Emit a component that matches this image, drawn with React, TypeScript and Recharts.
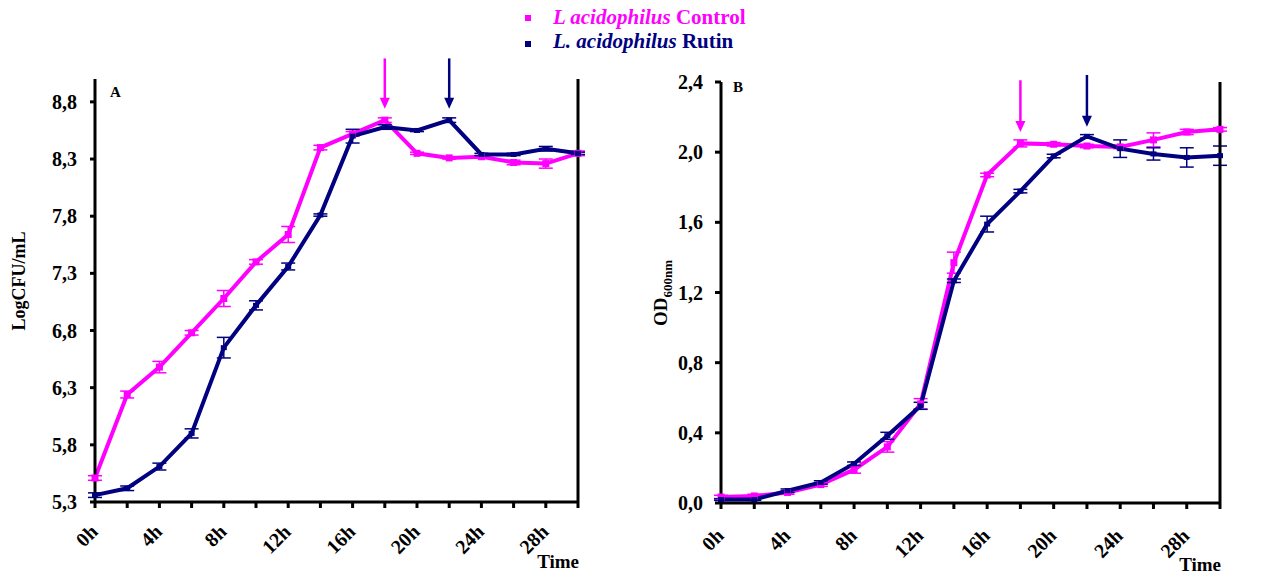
import { LineChart, Line, XAxis, YAxis, ErrorBar, ReferenceLine } from "recharts"

const hours = [0, 2, 4, 6, 8, 10, 12, 14, 16, 18, 20, 22, 24, 26, 28, 30]
const hourTicks = [0, 2, 4, 6, 8, 10, 12, 14, 16, 18, 20, 22, 24, 26, 28, 30]

// panel A - LogCFU/mL
const controlCfu = [5.51, 6.24, 6.48, 6.78, 7.08, 7.4, 7.64, 8.4, 8.52, 8.64, 8.35, 8.31, 8.32, 8.27, 8.26, 8.35]
const controlCfuErr = [0.02, 0.03, 0.05, 0.02, 0.07, 0.02, 0.07, 0.02, 0.02, 0.02, 0.01, 0.01, 0.01, 0.02, 0.04, 0.02]
const rutinCfu = [5.36, 5.42, 5.61, 5.9, 6.65, 7.02, 7.36, 7.81, 8.5, 8.58, 8.55, 8.64, 8.34, 8.34, 8.39, 8.35]
const rutinCfuErr = [0.02, 0.02, 0.03, 0.04, 0.09, 0.04, 0.03, 0.01, 0.06, 0.02, 0.01, 0.02, 0.01, 0.01, 0.02, 0.01]
const cfuTicks = [5.3, 5.8, 6.3, 6.8, 7.3, 7.8, 8.3, 8.8]

// panel B - OD600nm
const controlOd = [0.034, 0.04, 0.06, 0.105, 0.19, 0.32, 0.565, 1.37, 1.87, 2.05, 2.045, 2.035, 2.03, 2.07, 2.115, 2.13]
const controlOdErr = [0.01, 0.01, 0.01, 0.01, 0.02, 0.03, 0.03, 0.06, 0.01, 0.02, 0.01, 0.01, 0.01, 0.04, 0.015, 0.01]
const rutinOd = [0.02, 0.02, 0.07, 0.117, 0.224, 0.383, 0.554, 1.267, 1.59, 1.778, 1.978, 2.09, 2.02, 1.99, 1.97, 1.98]
const rutinOdErr = [0.005, 0.005, 0.01, 0.01, 0.01, 0.02, 0.02, 0.01, 0.045, 0.01, 0.01, 0.01, 0.05, 0.035, 0.055, 0.055]
const odTicks = [0, 0.4, 0.8, 1.2, 1.6, 2.0, 2.4]

const PINK = "#ff00ff"
const NAVY = "#000080"
const FONT = "'Liberation Serif', 'Times New Roman', serif"

const cfuData = hours.map((h, i) => ({
  h,
  control: controlCfu[i],
  controlErr: controlCfuErr[i],
  rutin: rutinCfu[i],
  rutinErr: rutinCfuErr[i],
}))

const odData = hours.map((h, i) => ({
  h,
  control: controlOd[i],
  controlErr: controlOdErr[i],
  rutin: rutinOd[i],
  rutinErr: rutinOdErr[i],
}))

const fmt = (v: number) => v.toFixed(1).replace(".", ",")

const makeHourTick = (dy: number) => (props: any) => {
  const { x, y, payload } = props
  if (payload.value % 4 !== 0 || payload.value > 28) return <g />
  const ax = x + 4
  const ay = y + dy
  return (
    <text
      x={ax}
      y={ay}
      transform={`rotate(-45, ${ax}, ${ay})`}
      textAnchor="end"
      fontFamily={FONT}
      fontWeight="bold"
      fontSize={20}
      fill="#000"
    >
      {payload.value}h
    </text>
  )
}

const SquareDot = (props: any) => {
  const { cx, cy } = props
  if (cx == null || cy == null) return <g />
  return <rect x={cx - 3.5} y={cy - 3.5} width={7} height={7} fill={PINK} />
}

const SmallDot = (props: any) => {
  const { cx, cy } = props
  if (cx == null || cy == null) return <g />
  return <rect x={cx - 3} y={cy - 2.5} width={6} height={5} fill={NAVY} />
}

const makeArrow = (color: string) => (props: any) => {
  const { x1, y1, x2, y2 } = props
  return (
    <g>
      <line x1={x1} y1={y1} x2={x2} y2={y2 - 9} stroke={color} strokeWidth={2.5} />
      <polygon points={`${x2 - 5},${y2 - 11} ${x2 + 5},${y2 - 11} ${x2},${y2}`} fill={color} />
    </g>
  )
}

const tickStyle = { fontFamily: FONT, fontWeight: "bold", fontSize: 20, fill: "#000" } as any
const axisLine = { stroke: "#000", strokeWidth: 3 }
const tickLine = { stroke: "#000", strokeWidth: 3 }

function CfuChart() {
  return (
    <LineChart width={640} height={575} data={cfuData} margin={{ top: 79, right: 2, bottom: 13, left: 35 }}>
      <XAxis
        dataKey="h"
        type="number"
        domain={[0, 30]}
        ticks={hourTicks}
        interval={0}
        axisLine={axisLine}
        tickLine={tickLine}
        tickSize={6}
        height={60}
        tick={makeHourTick(23)}
      />
      <YAxis
        yAxisId="left"
        domain={[5.3, 9.0]}
        ticks={cfuTicks}
        interval={0}
        width={60}
        axisLine={axisLine}
        tickLine={tickLine}
        tickSize={5}
        tickMargin={13}
        tickFormatter={fmt}
        tick={tickStyle}
      />
      <YAxis
        yAxisId="right"
        orientation="right"
        domain={[5.3, 9.0]}
        ticks={cfuTicks}
        interval={0}
        width={60}
        axisLine={axisLine}
        tickLine={tickLine}
        tickSize={5}
        tickMargin={13}
        tickFormatter={fmt}
        tick={tickStyle}
      />
      <ReferenceLine
        yAxisId="left"
        segment={[{ x: 18, y: 9.18 }, { x: 18, y: 8.74 }]}
        ifOverflow="visible"
        shape={makeArrow(PINK)}
      />
      <ReferenceLine
        yAxisId="left"
        segment={[{ x: 22, y: 9.18 }, { x: 22, y: 8.74 }]}
        ifOverflow="visible"
        shape={makeArrow(NAVY)}
      />
      <Line
        yAxisId="left"
        dataKey="control"
        stroke={PINK}
        strokeWidth={4}
        dot={<SquareDot />}
        isAnimationActive={false}
      >
        <ErrorBar dataKey="controlErr" direction="y" width={7} strokeWidth={1.5} stroke={PINK} />
      </Line>
      <Line
        yAxisId="left"
        dataKey="rutin"
        stroke={NAVY}
        strokeWidth={4}
        dot={<SmallDot />}
        isAnimationActive={false}
      >
        <ErrorBar dataKey="rutinErr" direction="y" width={7} strokeWidth={1.5} stroke={NAVY} />
      </Line>
    </LineChart>
  )
}

function OdChart() {
  return (
    <LineChart width={628} height={575} data={odData} margin={{ top: 82, right: 3, bottom: 12, left: 21 }}>
      <XAxis
        dataKey="h"
        type="number"
        domain={[0, 30]}
        ticks={hourTicks}
        interval={0}
        axisLine={axisLine}
        tickLine={tickLine}
        tickSize={6}
        height={60}
        tick={makeHourTick(26)}
      />
      <YAxis
        yAxisId="left"
        domain={[0, 2.4]}
        ticks={odTicks}
        interval={0}
        width={60}
        axisLine={axisLine}
        tickLine={tickLine}
        tickSize={6}
        tickMargin={12}
        tickFormatter={fmt}
        tick={tickStyle}
      />
      <YAxis
        yAxisId="right"
        orientation="right"
        domain={[0, 2.4]}
        ticks={odTicks}
        interval={0}
        width={45}
        axisLine={axisLine}
        tickLine={tickLine}
        tickSize={4}
        tickMargin={2}
        tickFormatter={fmt}
        tick={tickStyle}
      />
      <ReferenceLine
        yAxisId="left"
        segment={[{ x: 18, y: 2.41 }, { x: 18, y: 2.115 }]}
        ifOverflow="visible"
        shape={makeArrow(PINK)}
      />
      <ReferenceLine
        yAxisId="left"
        segment={[{ x: 22, y: 2.44 }, { x: 22, y: 2.145 }]}
        ifOverflow="visible"
        shape={makeArrow(NAVY)}
      />
      <Line
        yAxisId="left"
        dataKey="control"
        stroke={PINK}
        strokeWidth={4}
        dot={<SquareDot />}
        isAnimationActive={false}
      >
        <ErrorBar dataKey="controlErr" direction="y" width={7} strokeWidth={1.5} stroke={PINK} />
      </Line>
      <Line
        yAxisId="left"
        dataKey="rutin"
        stroke={NAVY}
        strokeWidth={4}
        dot={<SmallDot />}
        isAnimationActive={false}
      >
        <ErrorBar dataKey="rutinErr" direction="y" width={7} strokeWidth={1.5} stroke={NAVY} />
      </Line>
    </LineChart>
  )
}

export default function App() {
  return (
    <div style={{ position: "absolute", left: 0, top: 0, width: 1268, height: 575, background: "#fff", overflow: "hidden" }}>
      <div style={{ position: "absolute", left: 0, top: 0 }}>
        <CfuChart />
      </div>
      <div style={{ position: "absolute", left: 640, top: 0 }}>
        <OdChart />
      </div>
      <svg width={1268} height={575} style={{ position: "absolute", left: 0, top: 0, pointerEvents: "none" }}>
        {/* legend */}
        <rect x={525} y={15} width={6} height={6} fill={PINK} />
        <text x={553} y={24} fontFamily={FONT} fontWeight="bold" fontSize={21} fill={PINK}>
          <tspan fontStyle="italic" fontWeight="bold">L acidophilus</tspan>
          <tspan fontWeight="bold"> Control</tspan>
        </text>
        <rect x={525} y={41} width={6} height={6} fill={NAVY} />
        <text x={553} y={48} fontFamily={FONT} fontWeight="bold" fontSize={21} fill={NAVY}>
          <tspan fontStyle="italic" fontWeight="bold">L. acidophilus</tspan>
          <tspan fontWeight="bold"> Rutin</tspan>
        </text>

        {/* panel letters */}
        <text x={110} y={97} fontFamily={FONT} fontWeight="bold" fontSize={15} fill="#000">A</text>
        <text x={733} y={92} fontFamily={FONT} fontWeight="bold" fontSize={15} fill="#000">B</text>

        {/* axis titles */}
        <text x={25} y={281} fontFamily={FONT} fontWeight="bold" fontSize={18} fill="#000" textAnchor="middle" transform="rotate(-90, 25, 281)">
          LogCFU/mL
        </text>
        <text x={667} y={293} fontFamily={FONT} fontWeight="bold" fontSize={19} fill="#000" textAnchor="middle" transform="rotate(-90, 667, 293)">
          OD<tspan fontSize={13} dy={5}>600nm</tspan>
        </text>
        <text x={579} y={568} fontFamily={FONT} fontWeight="bold" fontSize={19} fill="#000" textAnchor="end">Time</text>
        <text x={1221} y={571} fontFamily={FONT} fontWeight="bold" fontSize={19} fill="#000" textAnchor="end">Time</text>
      </svg>
    </div>
  )
}
